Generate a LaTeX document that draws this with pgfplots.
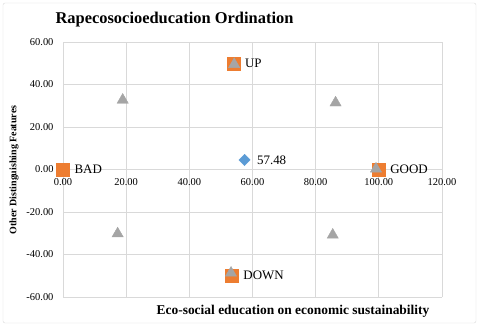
\documentclass[border=0pt]{standalone}
\usepackage{pgfplots}
\pgfplotsset{compat=1.18}
\usepackage{fontspec}
\setmainfont{Liberation Serif}
\definecolor{xlorange}{HTML}{ED7D31}
\definecolor{xlgray}{HTML}{A5A5A5}
\definecolor{xlblue}{HTML}{5B9BD5}
\definecolor{gridc}{HTML}{D9D9D9}
\begin{document}
\begin{tikzpicture}[x=1bp,y=1bp]
\useasboundingbox (-63,-29) rectangle (417,297);
\draw[gridc, rounded corners=2bp] (-60,-26) rectangle (413,294);
\begin{axis}[
    at={(0,127.5bp)}, anchor=origin,
    scale only axis,
    width=379bp, height=255bp,
    xmin=0, xmax=120, ymin=-60, ymax=60,
    xtick={0,20,...,120}, ytick={-60,-40,...,60},
    axis x line=middle, axis y line=left,
    axis line style={draw=none},
    hide obscured x ticks=false,
    hide obscured y ticks=false,
    major tick length=0pt,
    grid=major,
    grid style={gridc, line width=0.8pt},
    tick label style={font=\fontsize{10.5}{12}\selectfont},
    /pgf/number format/assume math mode=true,
    /pgf/number format/.cd, fixed, fixed zerofill, precision=2,
    /pgfplots/.cd,
    xticklabel style={yshift=-6bp},
    yticklabel style={xshift=-6bp},
    clip=false,
]
% orange squares with labels
\addplot[only marks, mark=square*, mark size=6.5bp, mark options={fill=xlorange, draw=xlorange},
    nodes near coords, point meta=explicit symbolic,
    nodes near coords style={anchor=west, xshift=8bp, yshift=0bp, font=\fontsize{13}{14}\selectfont, text=black}]
  coordinates {
  (0,0) [BAD]
  (100,0) [GOOD]
  (54,50) [UP]
  (53.5,-49.8) [DOWN]
};
% grey triangles
\addplot[only marks, mark=triangle*, mark size=6.5bp, mark options={fill=xlgray, draw=xlgray}]
  coordinates {
  (18.9,32.7)
  (86.3,31.4)
  (17.3,-30.2)
  (85.4,-30.8)
  (54.2,49.5)
  (53.2,-48.7)
  (99.1,0.3)
};
% blue diamond (square turned by 45 degrees)
\addplot[only marks, mark=square*, mark size=4bp, mark options={fill=xlblue, draw=xlblue, rotate=45},
    nodes near coords, point meta=explicit symbolic,
    nodes near coords style={anchor=west, xshift=9bp, font=\fontsize{13}{14}\selectfont, text=black}]
  coordinates {
  (57.48,4.5) [57.48]
};
\end{axis}
\node[font=\bfseries\fontsize{16.5}{18}\selectfont] at (111.5,277) {Rapecosocioeducation Ordination};
\node[font=\bfseries\fontsize{13.5}{15}\selectfont] at (230,-14) {Eco-social education on economic sustainability};
\node[font=\bfseries\fontsize{10}{12}\selectfont, rotate=90] at (-49,127) {Other Distinguishing Features};
\end{tikzpicture}
\end{document}
